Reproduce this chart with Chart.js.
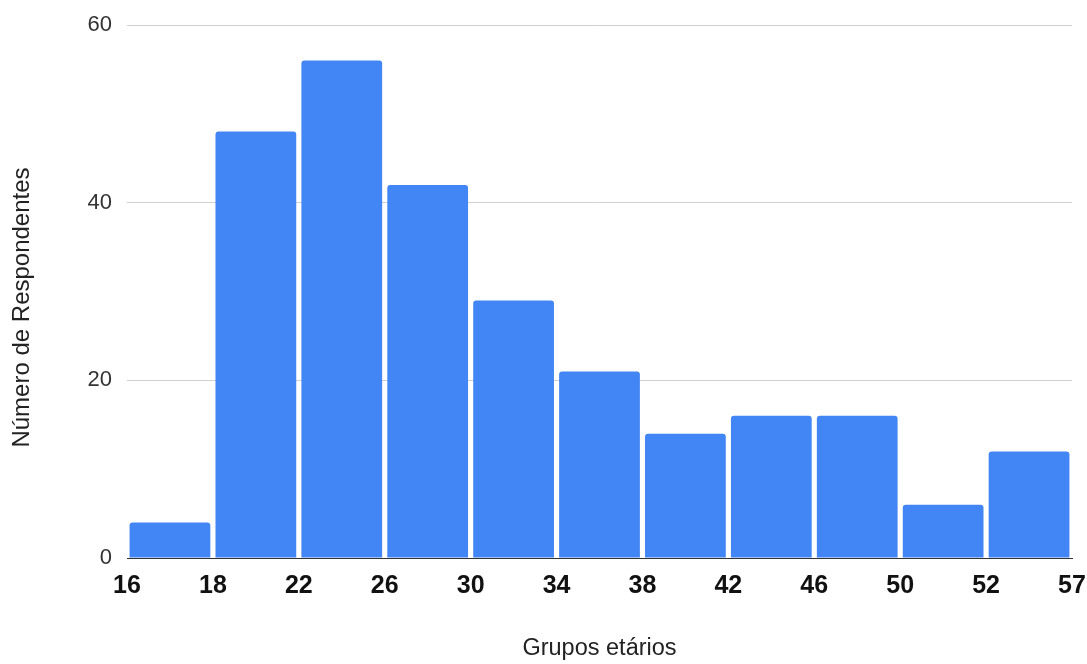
<!DOCTYPE html>
<html>
<head>
<meta charset="utf-8">
<script src="https://cdn.jsdelivr.net/npm/chart.js@4"></script>
<style>
  html, body { margin: 0; padding: 0; background: #fff; }
  #wrap { width: 1087px; height: 664px; }
</style>
</head>
<body>
<div id="wrap"><canvas id="chart-idades"></canvas></div>
<script>
// limites das faixas etárias (bordas de cada barra)
const binEdges = ['16', '18', '22', '26', '30', '34', '38', '42', '46', '50', '52', '57'];
// respondentes por faixa
const respondentes = [4, 48, 56, 42, 29, 21, 14, 16, 16, 6, 12];
const yTicks = [0, 20, 40, 60];
const yTitle = 'Número de Respondentes';

const barData = respondentes.map((v, i) => ({ x: i + 0.5, y: v }));

// título do eixo Y desenhado à parte, um pouco abaixo do centro da área
const yTitlePlugin = {
    id: 'yTitle',
    afterDraw(chart) {
        const c = chart.ctx;
        const area = chart.chartArea;
        c.save();
        c.translate(22, (area.top + area.bottom) / 2 + 16);
        c.rotate(-Math.PI / 2);
        c.font = '24px "Liberation Sans", Arial';
        c.fillStyle = '#222';
        c.textAlign = 'center';
        c.textBaseline = 'middle';
        c.fillText(yTitle, 0, 0);
        c.restore();
    }
};

const ctx = document.getElementById('chart-idades');
new Chart(ctx, {
    type: 'bar',
    data: {
        datasets: [{
            data: barData,
            backgroundColor: '#4285f4',
            borderWidth: 0,
            borderRadius: { topLeft: 3, topRight: 3, bottomLeft: 0, bottomRight: 0 },
            borderSkipped: 'bottom',
            barPercentage: 0.94,
            categoryPercentage: 1
        }]
    },
    plugins: [yTitlePlugin],
    options: {
        responsive: true,
        maintainAspectRatio: false,
        animation: false,
        layout: { padding: { top: 25, right: 0, left: 0, bottom: 0 } },
        plugins: { legend: { display: false }, tooltip: { enabled: false } },
        scales: {
            x: {
                type: 'linear',
                min: 0,
                max: binEdges.length - 1,
                offset: false,
                afterBuildTicks: (scale) => { scale.ticks = binEdges.map((_, i) => ({ value: i })); },
                ticks: {
                    autoSkip: false,
                    maxRotation: 0,
                    padding: 13,
                    color: '#111',
                    font: { family: '"Liberation Sans", Arial', size: 25, weight: 'bold' },
                    callback: (v) => binEdges[v]
                },
                grid: { display: false, drawTicks: false },
                border: { display: true, color: '#333', width: 1 },
                title: {
                    display: true,
                    text: 'Grupos etários',
                    color: '#222',
                    font: { family: '"Liberation Sans", Arial', size: 23.5 },
                    padding: { top: 2, bottom: 1 }
                },
                afterFit: (scale) => {
                    scale.height = 106;
                    scale.paddingLeft = 0;
                    scale.paddingRight = 15;
                }
            },
            y: {
                min: 0,
                max: 60,
                afterBuildTicks: (scale) => { scale.ticks = yTicks.map(v => ({ value: v })); },
                ticks: {
                    padding: 15,
                    color: '#333',
                    font: { family: '"Liberation Sans", Arial', size: 22 }
                },
                grid: { color: '#d0d0d0', drawTicks: false },
                border: { display: false },
                afterFit: (scale) => {
                    scale.width = 127;
                    scale.paddingTop = 0;
                    scale.paddingBottom = 0;
                }
            }
        }
    }
});
</script>
</body>
</html>
